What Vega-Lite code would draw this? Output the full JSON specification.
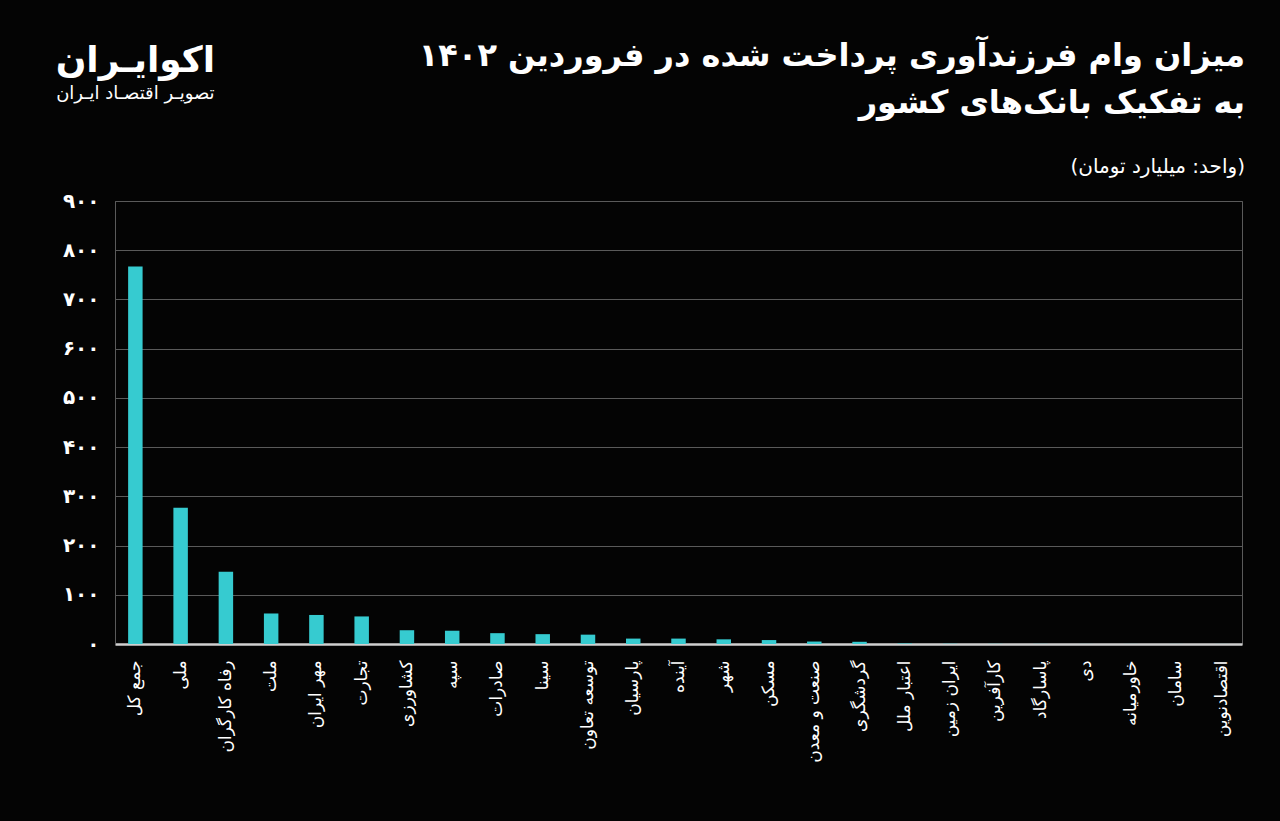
{
  "$schema": "https://vega.github.io/schema/vega-lite/v6.json",
  "width": 1127,
  "height": 443,
  "autosize": {"type": "none"},
  "padding": {"left": 115, "top": 201, "right": 38, "bottom": 177},
  "background": "#040404",
  "config": {
    "font": "DejaVu Sans",
    "view": {"stroke": "#5a5a5a", "strokeWidth": 1}
  },
  "title": {
    "text": ["میزان وام فرزندآوری پرداخت شده در فروردین ۱۴۰۲", "به تفکیک بانک‌های کشور"],
    "subtitle": "(واحد: میلیارد تومان)",
    "anchor": "end",
    "frame": "group",
    "fontSize": 32,
    "fontWeight": "bold",
    "color": "#ffffff",
    "lineHeight": 47,
    "subtitleFontSize": 20,
    "subtitleColor": "#ffffff",
    "subtitlePadding": 37,
    "offset": -135,
    "dx": 3
  },
  "layer": [
    {
      "data": {
        "values": [
          {"bank": "جمع کل", "value": 767},
          {"bank": "ملی", "value": 277},
          {"bank": "رفاه کارگران", "value": 147},
          {"bank": "ملت", "value": 62},
          {"bank": "مهر ایران", "value": 59},
          {"bank": "تجارت", "value": 56},
          {"bank": "کشاورزی", "value": 28},
          {"bank": "سپه", "value": 27},
          {"bank": "صادرات", "value": 22},
          {"bank": "سینا", "value": 20},
          {"bank": "توسعه تعاون", "value": 19},
          {"bank": "پارسیان", "value": 11},
          {"bank": "آینده", "value": 11},
          {"bank": "شهر", "value": 9.5},
          {"bank": "مسکن", "value": 8},
          {"bank": "صنعت و معدن", "value": 5},
          {"bank": "گردشگری", "value": 4.5},
          {"bank": "اعتبار ملل", "value": 1},
          {"bank": "ایران زمین", "value": 0.5},
          {"bank": "کارآفرین", "value": 0.3},
          {"bank": "پاسارگاد", "value": 0.2},
          {"bank": "دی", "value": 0.1},
          {"bank": "خاورمیانه", "value": 0.1},
          {"bank": "سامان", "value": 0.1},
          {"bank": "اقتصادنوین", "value": 0.1}
        ]
      },
      "mark": {"type": "bar", "color": "#36cbd0"},
      "encoding": {
        "x": {
          "field": "bank",
          "type": "nominal",
          "sort": null,
          "scale": {"paddingInner": 0.68, "paddingOuter": 0.29},
          "axis": {
            "title": null,
            "labelAngle": -90,
            "labelColor": "#ffffff",
            "labelFontSize": 17,
            "labelPadding": 16,
            "ticks": false,
            "domainColor": "#d0d0d0",
            "domainWidth": 2.5,
            "grid": false
          }
        },
        "y": {
          "field": "value",
          "type": "quantitative",
          "scale": {"domain": [0, 900], "nice": false},
          "axis": {
            "title": null,
            "values": [0, 100, 200, 300, 400, 500, 600, 700, 800, 900],
            "labelExpr": "['۰','۱۰۰','۲۰۰','۳۰۰','۴۰۰','۵۰۰','۶۰۰','۷۰۰','۸۰۰','۹۰۰'][round(datum.value / 100)]",
            "labelColor": "#ffffff",
            "labelFontSize": 20,
            "labelFontWeight": "bold",
            "labelPadding": 16,
            "ticks": false,
            "domainColor": "#5a5a5a",
            "gridColor": "#5a5a5a",
            "gridWidth": 1
          }
        }
      }
    },
    {
      "data": {"values": [{"brand": "اکوایـران", "tag": "تصویـر اقتصـاد ایـران"}]},
      "layer": [
        {
          "mark": {"type": "text", "color": "#ffffff", "fontSize": 36, "fontWeight": "bold", "align": "center", "baseline": "middle"},
          "encoding": {
            "x": {"datum": "جمع کل", "type": "nominal"},
            "y": {"datum": 1185, "type": "quantitative"},
            "text": {"field": "brand"}
          }
        },
        {
          "mark": {"type": "text", "color": "#ffffff", "fontSize": 18, "align": "center", "baseline": "middle"},
          "encoding": {
            "x": {"datum": "جمع کل", "type": "nominal"},
            "y": {"datum": 1118, "type": "quantitative"},
            "text": {"field": "tag"}
          }
        }
      ]
    }
  ]
}
